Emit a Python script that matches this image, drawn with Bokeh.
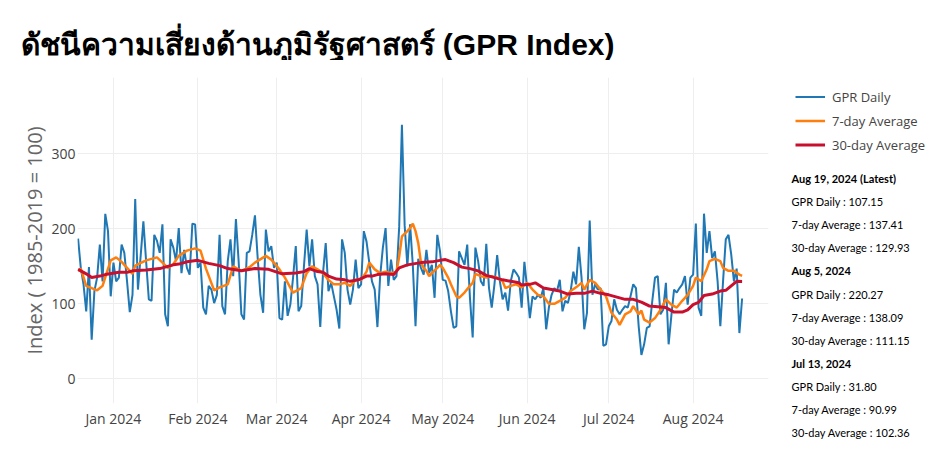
import pandas as pd
from bokeh.plotting import figure
from bokeh.layouts import column, row
from bokeh.models import (Range1d, FixedTicker, DatetimeTickFormatter, Label,
                          Legend, LegendItem)
from bokeh.embed import file_html
from bokeh.resources import INLINE

# ---------------- data ----------------
title_text = "ดัชนีความเสี่ยงด้านภูมิรัฐศาสตร์ (GPR Index)"
y_label = "Index ( 1985-2019 = 100)"
series_names = ["GPR Daily", "7-day Average", "30-day Average"]
series_colors = ["#1f77b4", "#ff7f0e", "#c8102e"]
series_widths = [2, 2.5, 3]
start_date = "2023-12-19"

gpr_daily = [
    187, 148, 126, 90, 149, 52, 117, 135, 179, 130,
    220, 197, 110, 155, 130, 135, 179, 168, 130, 89,
    112, 240, 119, 164, 210, 157, 106, 104, 192, 184,
    168, 206, 86, 70, 186, 175, 157, 201, 141, 172,
    148, 139, 207, 206, 148, 155, 95, 86, 124, 119,
    101, 112, 192, 97, 86, 157, 186, 137, 213, 157,
    86, 79, 168, 170, 192, 218, 161, 112, 88, 199,
    170, 177, 148, 155, 81, 79, 130, 84, 99, 135,
    177, 90, 97, 150, 199, 150, 186, 137, 126, 69,
    141, 181, 117, 128, 110, 92, 67, 186, 168, 119,
    99, 119, 159, 121, 126, 197, 183, 155, 130, 119,
    69, 137, 175, 201, 124, 159, 132, 137, 203, 339,
    205, 150, 206, 152, 70, 160, 148, 139, 172, 141,
    152, 108, 192, 170, 132, 131, 117, 90, 68, 70,
    170, 161, 152, 179, 108, 55, 175, 157, 130, 124,
    180, 121, 95, 126, 165, 130, 106, 115, 91, 130,
    146, 141, 135, 95, 156, 121, 81, 110, 106, 112,
    108, 121, 66, 95, 112, 121, 117, 132, 90, 104,
    101, 117, 143, 126, 176, 135, 66, 88, 211, 112,
    126, 119, 121, 44, 46, 70, 77, 106, 92, 86,
    92, 97, 95, 110, 126, 121, 70, 31.80, 46, 68,
    70, 104, 135, 137, 86, 92, 128, 46, 84, 119,
    115, 121, 126, 137, 99, 135, 139, 207, 95, 84,
    220.27, 168, 197, 161, 170, 130, 70, 130, 186, 192,
    166, 130, 147, 61, 107.15,
]

avg7_day = [0, 1, 3, 7, 9, 12, 14, 16, 20, 21, 25, 29, 33, 35, 37, 40, 43, 45,
            47, 50, 52, 55, 57, 60, 63, 65, 69, 71, 74, 76, 79, 81, 82, 84, 86,
            88, 90, 92, 94, 96, 98, 100, 102, 104, 106, 107, 109, 111, 113, 115,
            117, 118, 119, 121, 122, 123, 124, 125, 126, 127, 128, 129, 130, 132,
            133, 134, 136, 137, 139, 140, 142, 144, 145, 146, 148, 150, 152, 154,
            156, 157, 159, 161, 163, 165, 167, 169, 171, 173, 175, 177, 179, 181,
            183, 185, 186, 188, 190, 192, 194, 196, 198, 199, 201, 203, 204, 206,
            207, 208, 210, 212, 214, 216, 218, 220, 222, 224, 226, 227, 229, 230,
            231, 232, 234, 236, 237, 239, 241, 243, 244]
avg7_val = [144, 147, 124, 118, 124, 158, 162, 156, 140, 151, 158, 162, 148, 153,
            164, 171, 174, 171, 147, 118, 122, 126, 150, 144, 149, 155, 164, 159,
            146, 135, 115, 119, 121, 141, 150, 146, 141, 132, 126, 126, 128, 124,
            132, 132, 143, 155, 146, 141, 143, 141, 143, 163, 190, 197, 201, 207,
            197, 181, 155, 148, 144, 137, 141, 148, 152, 148, 135, 126, 110, 108,
            115, 124, 128, 140, 137, 135, 137, 135, 130, 121, 124, 126, 122, 128,
            119, 112, 110, 100, 100, 104, 108, 117, 122, 128, 119, 132, 128, 119,
            110, 88, 79, 72, 86, 90, 97, 86, 90.99, 79, 75, 81, 92, 106, 99, 95,
            104, 112, 124, 135, 130, 138.09, 146, 157, 160, 157, 148, 144, 144,
            139, 137.41]

avg30_day = [0, 3, 5, 8, 10, 15, 18, 20, 25, 30, 35, 37, 40, 44, 48, 52, 55, 60,
             65, 70, 75, 80, 83, 85, 88, 90, 92, 95, 98, 100, 103, 106, 108, 110,
             113, 116, 118, 121, 126, 130, 133, 135, 138, 141, 144, 147, 150, 153,
             156, 159, 162, 163, 166, 168, 171, 174, 177, 180, 183, 186, 189, 192,
             195, 198, 201, 204, 207, 210, 213, 216, 219, 222, 224, 226, 228, 230,
             233, 236, 238, 240, 242, 244]
avg30_val = [146, 140, 135, 137, 139, 142, 142, 144, 145, 147, 152, 153, 156, 158,
             154, 151, 147, 144, 147, 146, 140, 141, 143, 147, 143, 142, 137, 133,
             132, 130, 132, 137, 137, 139, 140, 139, 148, 152, 155, 156, 158, 159,
             155, 149, 147, 144, 138, 135, 132, 130, 128, 125, 126, 128, 121, 119,
             117, 113, 114, 114, 117, 114, 112, 109, 106, 106, 102.36, 97, 96, 95,
             89, 89, 92, 99, 102, 111.15, 113, 117, 118, 124, 130, 129.93]

month_ticks = ["2024-01-01", "2024-02-01", "2024-03-01", "2024-04-01",
               "2024-05-01", "2024-06-01", "2024-07-01", "2024-08-01"]
y_ticks = [0, 100, 200, 300]

ann_dates = ["Aug 19, 2024 (Latest)", "Aug 5, 2024", "Jul 13, 2024"]
ann_daily = ["107.15", "220.27", "31.80"]
ann_avg7 = ["137.41", "138.09", "90.99"]
ann_avg30 = ["129.93", "111.15", "102.36"]

# ---------------- layout sizes ----------------
TOTAL_W, TOTAL_H = 925, 439
TOP_H = 60
MAIN_W = 770
MAIN_H = TOTAL_H - TOP_H
SIDE_W = TOTAL_W - MAIN_W


def bare(width, height, x_range, y_range):
    f = figure(width=width, height=height, output_backend="svg",
               toolbar_location=None, x_range=x_range, y_range=y_range,
               x_axis_location=None, y_axis_location=None,
               min_border=0, min_border_left=0, min_border_right=0,
               min_border_top=0, min_border_bottom=0)
    f.grid.visible = False
    f.outline_line_color = None
    f.background_fill_color = "white"
    f.border_fill_color = "white"
    return f


# ---------------- title ----------------
top = bare(MAIN_W, TOP_H, Range1d(0, MAIN_W), Range1d(TOP_H, 0))
top.add_layout(Label(x=20, y=44, text=title_text, text_font="Liberation Sans",
                     text_font_style="bold", text_font_size="30px",
                     text_color="black", text_baseline="alphabetic"))

# ---------------- main chart ----------------
t0 = pd.Timestamp(start_date)
daily_x = [(t0 + pd.Timedelta(days=i)).to_pydatetime() for i in range(len(gpr_daily))]
avg7_x = [(t0 + pd.Timedelta(days=i)).to_pydatetime() for i in avg7_day]
avg30_x = [(t0 + pd.Timedelta(days=i)).to_pydatetime() for i in avg30_day]

x_start = (t0 - pd.Timedelta(hours=5)).to_pydatetime()
x_end = (t0 + pd.Timedelta(days=253.7)).to_pydatetime()

p = figure(width=MAIN_W, height=MAIN_H, output_backend="svg",
           toolbar_location=None, x_axis_type="datetime",
           x_range=Range1d(x_start, x_end), y_range=Range1d(-33, 402),
           min_border_left=77, min_border_right=2,
           min_border_top=17, min_border_bottom=36)
p.outline_line_color = None
p.background_fill_color = "white"
p.border_fill_color = "white"

p.line(daily_x, gpr_daily, line_color=series_colors[0], line_width=series_widths[0])
p.line(avg7_x, avg7_val, line_color=series_colors[1], line_width=series_widths[1])
p.line(avg30_x, avg30_val, line_color=series_colors[2], line_width=series_widths[2])

tick_ms = [pd.Timestamp(s).value / 1e6 for s in month_ticks]
p.xaxis.ticker = FixedTicker(ticks=tick_ms)
fmt = "%b %Y"
p.xaxis.formatter = DatetimeTickFormatter(days=fmt, months=fmt, years=fmt,
                                          hours=fmt, minutes=fmt)
p.yaxis.ticker = FixedTicker(ticks=y_ticks)

for ax in (p.xaxis[0], p.yaxis[0]):
    ax.axis_line_color = None
    ax.major_tick_line_color = None
    ax.minor_tick_line_color = None
    ax.major_tick_out = 0
    ax.major_tick_in = 0
    ax.minor_tick_out = 0
    ax.minor_tick_in = 0
    ax.major_label_text_font = "Open Sans"
    ax.major_label_text_font_size = "14px"
    ax.major_label_text_color = "#444444"
p.xaxis.major_label_standoff = 5
p.yaxis.major_label_standoff = 2
p.yaxis.axis_label = y_label
p.yaxis.axis_label_text_font = "Open Sans"
p.yaxis.axis_label_text_font_size = "20px"
p.yaxis.axis_label_text_font_style = "normal"
p.yaxis.axis_label_text_color = "#666666"
p.yaxis.axis_label_standoff = 0

p.xgrid.grid_line_color = "#eeeeee"
p.ygrid.grid_line_color = "#eeeeee"

# ---------------- side panel: legend + notes (full height) ----------------
side = bare(SIDE_W, TOTAL_H, Range1d(0, SIDE_W), Range1d(TOTAL_H, 0))
items = []
for name, col, w in zip(series_names, series_colors, series_widths):
    # single-point proxy renderer (draws nothing), used only for the legend key
    r = side.line([0], [0], line_color=col, line_width=w)
    items.append(LegendItem(label=name, renderers=[r]))
legend = Legend(items=items, location=(25, TOTAL_H - 155), orientation="vertical",
                padding=0, margin=0, spacing=3, glyph_width=30, glyph_height=21,
                label_height=21, label_standoff=7,
                label_text_font="Open Sans", label_text_font_size="13px",
                label_text_color="#444444",
                background_fill_alpha=0, border_line_alpha=0)
side.add_layout(legend)

lines = []
for d, a, b, c in zip(ann_dates, ann_daily, ann_avg7, ann_avg30):
    lines.append((d, "bold"))
    lines.append((f"{series_names[0]} : {a}", "normal"))
    lines.append((f"{series_names[1]} : {b}", "normal"))
    lines.append((f"{series_names[2]} : {c}", "normal"))
for i, (txt, style) in enumerate(lines):
    side.add_layout(Label(x=21, y=178 + 23.1 * i, text=txt, text_font="Lato",
                          text_font_style=style, text_font_size="11px",
                          text_color="black", text_baseline="middle"))

# nesting keeps Bokeh from aligning the plot frames of the three figures
layout = row(column(top, row(p, spacing=0), spacing=0), side, spacing=0)
open("out.html", "w").write(file_html(layout, INLINE))
